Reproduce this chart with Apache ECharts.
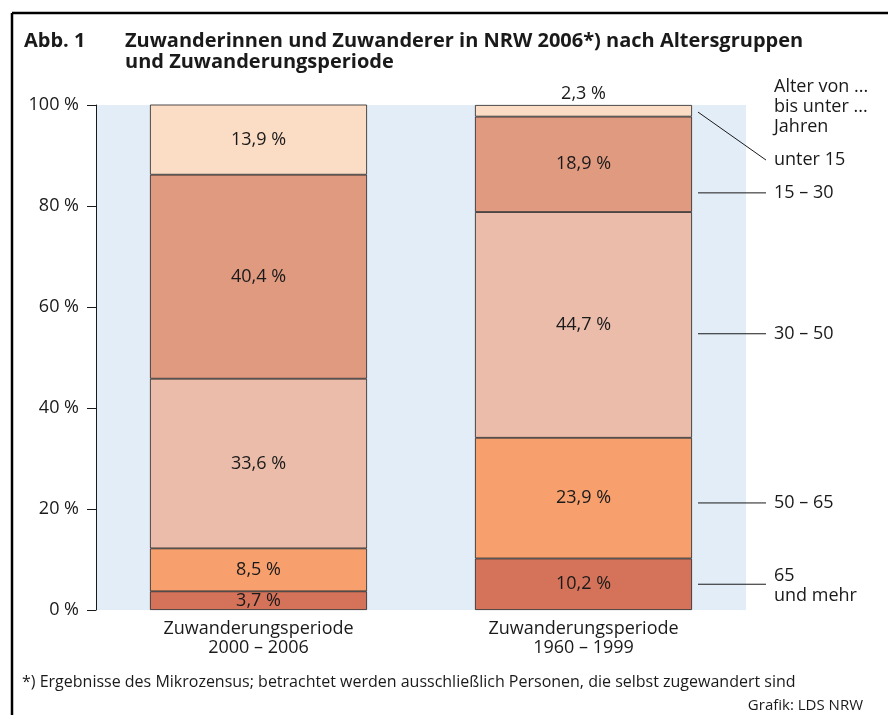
<!DOCTYPE html>
<html>
<head>
<meta charset="utf-8">
<script src="https://cdn.jsdelivr.net/npm/echarts@6/dist/echarts.min.js"></script>
<style>
  html, body { margin: 0; padding: 0; background: #fff; }
  #main { width: 888px; height: 715px; }
</style>
</head>
<body>
<div id="main"></div>
<script>
// Kategorien (Zuwanderungsperiode)
var categories = ['Zuwanderungsperiode\n2000 – 2006', 'Zuwanderungsperiode\n1960 – 1999'];

// Altersgruppen, von unten nach oben gestapelt
var groupNames = ['65 und mehr', '50 – 65', '30 – 50', '15 – 30', 'unter 15'];
var age65plus = [3.7, 10.2];
var age50to65 = [8.5, 23.9];
var age30to50 = [33.6, 44.7];
var age15to30 = [40.4, 18.9];
var ageUnder15 = [13.9, 2.3];

var yTicks = [0, 20, 40, 60, 80, 100];

// Beschriftung rechts: Text und Höhe (in %) der Hinweislinie
var sideLabels = ['unter 15', '15 – 30', '30 – 50', '50 – 65', '65\nund mehr'];
var sideLineY = [89.1, 82.6, 54.7, 21.2, 5.1];

var colors = ['#d4735a', '#f7a06e', '#ebbcaa', '#e09a80', '#fbdcc5'];
var FONT = 'Open Sans';

var chart = echarts.init(document.getElementById('main'));

function fmt(v) { return String(v).replace('.', ',') + ' %'; }

function makeSeries(name, data, color) {
	return {
		name: name,
		type: 'bar',
		stack: 'alter',
		barWidth: 217,
		itemStyle: { color: color, borderColor: '#222', borderWidth: 0.8 },
		label: {
			show: true,
			position: 'inside',
			color: '#1a1a1a',
			fontFamily: FONT,
			fontSize: 18,
			formatter: function (p) { return fmt(p.value); }
		},
		data: data.slice()
	};
}

var seriesData = [age65plus, age50to65, age30to50, age15to30, ageUnder15];
var series = [];
for (var i = 0; i < seriesData.length; i++) {
	series.push(makeSeries(groupNames[i], seriesData[i], colors[i]));
}
// 2,3 % steht über dem Balken
series[4].data[1] = { value: ageUnder15[1], label: { position: 'top', distance: 2 } };

var option = {
	animation: false,
	backgroundColor: '#fff',
	textStyle: { fontFamily: FONT },
	grid: {
		left: 96, right: 142, top: 105, bottom: 105,
		show: true, backgroundColor: '#e2edf7', borderWidth: 0
	},
	xAxis: {
		type: 'category',
		data: categories,
		axisLine: { show: false },
		axisTick: { show: false },
		axisLabel: { color: '#1a1a1a', fontFamily: FONT, fontSize: 18, lineHeight: 19, margin: 9 }
	},
	yAxis: {
		type: 'value',
		min: 0, max: 100, interval: 20,
		axisLine: { show: true, lineStyle: { color: '#1a1a1a', width: 1 } },
		axisTick: { show: true, length: 9, lineStyle: { color: '#1a1a1a' } },
		splitLine: { show: false },
		axisLabel: {
			color: '#1a1a1a', fontFamily: FONT, fontSize: 18, margin: 17,
			formatter: function (v) { return yTicks.indexOf(v) >= 0 ? v + ' %' : ''; }
		}
	},
	series: series
};
chart.setOption(option);

// Rahmen, Titel, Fußnote, Hinweislinien
var g = [];
g.push({ type: 'line', shape: { x1: 12, y1: 13, x2: 888, y2: 13 }, style: { stroke: '#000', lineWidth: 2.5 } });
g.push({ type: 'line', shape: { x1: 12, y1: 13, x2: 12, y2: 715 }, style: { stroke: '#000', lineWidth: 2.5 } });
g.push({ type: 'text', left: 24, top: 31, style: { text: 'Abb. 1', font: 'bold 20px "Open Sans"', fill: '#1a1a1a' } });
g.push({ type: 'text', left: 125, top: 31, style: { text: 'Zuwanderinnen und Zuwanderer in NRW 2006*) nach Altersgruppen\nund Zuwanderungsperiode', font: 'bold 20px "Open Sans"', lineHeight: 21, fill: '#1a1a1a' } });
g.push({ type: 'text', left: 774, top: 77, style: { text: 'Alter von ...\nbis unter ...\nJahren', font: '18px "Open Sans"', lineHeight: 20, fill: '#1a1a1a' } });
g.push({ type: 'text', left: 22, top: 674, style: { text: '*) Ergebnisse des Mikrozensus; betrachtet werden ausschließlich Personen, die selbst zugewandert sind', font: '16px "Open Sans"', fill: '#1a1a1a' } });
g.push({ type: 'text', right: 25, top: 698, style: { text: 'Grafik: LDS NRW', font: '15px "Open Sans"', fill: '#1a1a1a' } });

var barRight = chart.convertToPixel({ xAxisIndex: 0 }, 1) + 217 / 2;
for (var k = 0; k < sideLabels.length; k++) {
	var yLine = chart.convertToPixel({ yAxisIndex: 0 }, sideLineY[k]);
	if (k === 0) {
		// schräge Linie vom schmalen Segment "unter 15"
		var yStart = chart.convertToPixel({ yAxisIndex: 0 }, 98.6);
		g.push({ type: 'line', shape: { x1: barRight + 6, y1: yStart, x2: barRight + 74, y2: yLine }, style: { stroke: '#1a1a1a', lineWidth: 1 } });
	} else {
		g.push({ type: 'line', shape: { x1: barRight + 6, y1: yLine, x2: barRight + 74, y2: yLine }, style: { stroke: '#1a1a1a', lineWidth: 1 } });
	}
	var multi = sideLabels[k].indexOf('\n') >= 0;
	g.push({ type: 'text', left: 774, top: multi ? yLine - 18 : yLine - 10, style: { text: sideLabels[k], font: '18px "Open Sans"', lineHeight: 20, fill: '#1a1a1a' } });
}
chart.setOption({ graphic: g });
</script>
</body>
</html>
